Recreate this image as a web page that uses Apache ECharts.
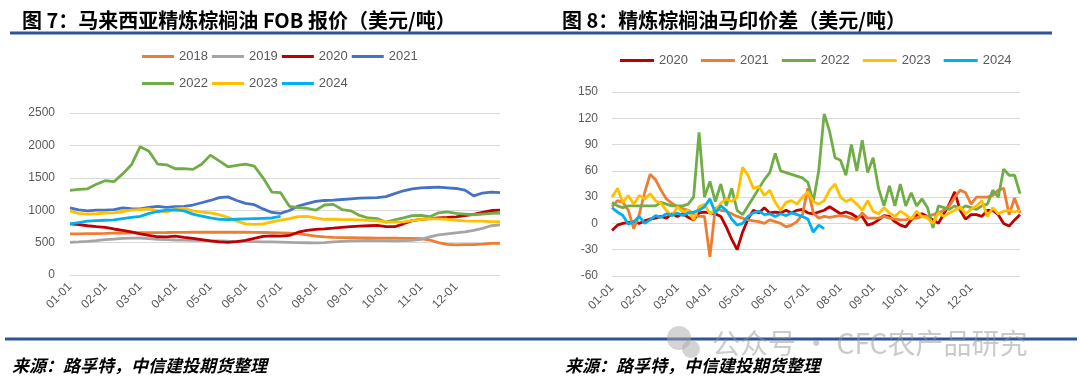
<!DOCTYPE html>
<html>
<head>
<meta charset="utf-8">
<script src="https://cdn.jsdelivr.net/npm/echarts@6/dist/echarts.min.js"></script>
<style>
html,body{margin:0;padding:0;background:#fff;}
#wrap{position:relative;width:1080px;height:388px;overflow:hidden;background:#fff;}
#c1{position:absolute;left:0;top:0;width:540px;height:388px;}
#c2{position:absolute;left:540px;top:0;width:540px;height:388px;}
</style>
</head>
<body>
<div id="wrap"><div id="c1"></div><div id="c2"></div></div>
<script>
// ---------- tick labels ----------
const MONTH_TICKS = ['01-01','02-01','03-01','04-01','05-01','06-01','07-01','08-01','09-01','10-01','11-01','12-01'];
const LEFT_DAYS = ['01','08','16','24'];
const RIGHT_DAYS = ['01','06','11','16','21','26'];
const LEFT_TAIL = ['12-31','01-07'];
const RIGHT_TAIL = ['12-31','01-05','01-10','01-15'];

// ---------- Fig 7 : Malaysia refined palm oil FOB (USD/t) ----------
const fob2018 = [635,636,638,640,642,645,648,650,652,654,655,656,658,658,660,660,660,661,660,660,660,658,656,654,650,646,640,620,600,588,580,578,576,574,572,570,570,568,566,564,560,540,500,472,465,468,470,478,488,490];
const fob2019 = [505,512,520,530,545,555,565,570,568,560,550,545,540,538,535,530,528,525,522,520,518,515,512,510,508,505,500,498,495,500,510,520,528,532,535,532,530,528,530,535,550,590,620,635,650,665,690,720,760,775];
const fob2020 = [790,778,760,745,735,710,690,665,635,610,590,588,600,580,565,545,525,512,505,515,535,565,595,605,600,610,660,690,705,712,722,735,748,755,760,765,745,745,790,840,860,870,880,888,898,915,935,965,995,1000];
const fob2021 = [1037,1005,990,1000,1000,1010,1035,1025,1020,1045,1060,1045,1055,1060,1080,1115,1150,1195,1205,1150,1105,1085,1020,965,950,995,1065,1100,1135,1150,1155,1165,1175,1185,1190,1195,1210,1255,1300,1330,1345,1350,1355,1345,1335,1310,1220,1265,1280,1270];
const fob2022 = [1307,1320,1330,1400,1455,1440,1560,1700,1980,1910,1710,1700,1640,1640,1630,1710,1850,1760,1670,1690,1710,1680,1500,1280,1270,1060,1040,1030,1000,1080,1090,1010,990,920,880,870,815,850,880,915,920,900,960,975,950,940,930,940,950,955];
const fob2023 = [985,950,940,945,955,960,980,1000,1010,1020,990,970,1020,1030,990,970,960,930,890,830,790,780,790,820,845,870,900,905,880,860,860,855,855,850,845,835,820,815,820,840,860,870,865,860,845,835,830,830,825,825];
const fob2024 = [790,810,830,840,845,850,870,890,905,950,980,1000,1005,990,940,910,880,860,855,860,865,870,875,880,905];

// ---------- Fig 8 : refined palm oil Malaysia-Indonesia spread (USD/t) ----------
const sp2020 = [-8,-2,0,1,2,0,3,5,6,8, 6,11,8,11,7,4,12,13,12,11, 8,-4,-18,-30,-10,5,15,12,18,12, 13,12,15,12,15,16,12,11,13,15, 19,15,11,13,11,7,8,-2,0,4, 9,8,2,-2,-4,4,10,11,8,4, 0,11,22,36,15,5,10,10,8,15, 15,10,0,-3,4,10];
const sp2021 = [19,26,24,15,-6,10,35,56,50,38, 28,23,19,17,15,11,8,8,-38,18, 15,14,11,8,6,4,3,2,0,4, 2,0,-4,-2,2,10,40,12,6,8, 7,8,9,8,6,4,12,6,6,6, 8,6,5,4,4,6,6,8,8,10, 12,15,20,30,38,35,22,30,30,30, 32,38,40,10,29,12];
const sp2022 = [24,20,18,20,20,20,20,20,20,24, 22,20,20,20,22,30,104,30,48,25, 45,20,40,15,10,20,30,40,50,58, 80,60,58,56,54,52,47,25,60,125, 105,75,72,55,90,60,95,58,75,40, 20,43,20,45,20,35,20,28,18,-5, 20,18,16,20,16,20,18,16,20,22, 38,30,62,55,55,34];
const sp2023 = [30,40,24,32,22,32,28,34,26,23, 15,8,19,13,15,4,19,22,11,15, 23,28,25,30,64,55,40,42,32,38, 24,15,24,26,22,30,36,25,22,26, 38,45,30,25,28,22,15,26,14,11, 18,12,8,14,10,5,14,8,6,0, 12,8,12,15,19,11,16,20,26,8, 18,11,14,15,13,15];
const sp2024 = [18,13,9,-1,2,8,0,4,9,7, 11,9,12,9,12,13,15,19,28,12, 20,15,5,-2,0,8,12,14,10,11, 8,11,9,12,10,8,5,-10,-2,-6];

// category builders (axis labels only)
function buildCats(days, tail){
  const out = [];
  MONTH_TICKS.forEach(t => { const m = t.slice(0,2); days.forEach(d => out.push(m + '-' + d)); });
  return out.concat(tail);
}
const catsL = buildCats(LEFT_DAYS, LEFT_TAIL);
const catsR = buildCats(RIGHT_DAYS, RIGHT_TAIL);

const CJK = '"Noto Sans CJK SC", "Noto Sans", sans-serif';
const NUM = '"Liberation Sans", Arial, sans-serif';
const RULE = '#2F5597';
const AX = '#595959';
const GRID = '#d9d9d9';

function xAxisCfg(cats, perMonth){
  return {
    type:'category', data:cats, boundaryGap:false,
    axisLine:{show:true, lineStyle:{color:GRID, width:1}},
    axisTick:{show:false},
    axisLabel:{
      interval:function(idx, val){ return idx < 12 * perMonth && MONTH_TICKS.indexOf(val) >= 0; },
      rotate:45, color:AX, fontSize:12, fontFamily:NUM, margin:10
    },
    splitLine:{show:false}
  };
}
function lineSeries(name, data, color){
  return {name:name, type:'line', data:data, symbol:'none', showSymbol:false,
    lineStyle:{width:2.8, color:color}, itemStyle:{color:color}, smooth:false};
}
function commonGraphics(title, srcX, ruleFrom, ruleTo, botFrom, botTo){
  return [
    {type:'text', x:22, y:20, silent:true,
      style:{text:title, font:'bold 20px ' + CJK, fill:'#000', verticalAlign:'middle'}},
    {type:'line', silent:true, shape:{x1:ruleFrom, y1:33, x2:ruleTo, y2:33}, style:{stroke:RULE, lineWidth:3}},
    {type:'line', silent:true, shape:{x1:botFrom, y1:339, x2:botTo, y2:339}, style:{stroke:RULE, lineWidth:3}},
    {type:'text', x:srcX, y:366, silent:true,
      style:{text:'来源：路孚特，中信建投期货整理', font:'italic bold 17px ' + CJK, fill:'#000', verticalAlign:'middle'}}
  ];
}
const legendBase = {icon:'rect', itemHeight:3, textStyle:{fontSize:13, color:AX, fontFamily:NUM}};
const yLabelFmt = function(v){ return String(v); };

// ---------- left chart ----------
const c1 = echarts.init(document.getElementById('c1'), null, {renderer:'canvas'});
c1.setOption({
  animation:false,
  backgroundColor:'#fff',
  textStyle:{fontFamily:NUM},
  graphic:commonGraphics('图 7：马来西亚精炼棕榈油 FOB 报价（美元/吨）', 12, 10, 540, 5, 540),
  legend:[
    Object.assign({}, legendBase, {data:['2018','2019','2020','2021'], left:137, top:45, itemWidth:32, itemGap:4}),
    Object.assign({}, legendBase, {data:['2022','2023','2024'], left:137, top:72, itemWidth:32, itemGap:4})
  ],
  grid:{left:70, right:40, top:113, bottom:113},
  xAxis:xAxisCfg(catsL, LEFT_DAYS.length),
  yAxis:{type:'value', min:0, max:2500, interval:500,
    axisLine:{show:false}, axisTick:{show:false},
    axisLabel:{color:AX, fontSize:12, fontFamily:NUM, margin:15, formatter:yLabelFmt},
    splitLine:{lineStyle:{color:GRID, width:1}}},
  series:[
    lineSeries('2018', fob2018, '#ED7D31'),
    lineSeries('2019', fob2019, '#A5A5A5'),
    lineSeries('2020', fob2020, '#C00000'),
    lineSeries('2021', fob2021, '#4472C4'),
    lineSeries('2022', fob2022, '#70AD47'),
    lineSeries('2023', fob2023, '#FFC000'),
    lineSeries('2024', fob2024, '#00B0F0')
  ]
});

// ---------- right chart ----------
const c2 = echarts.init(document.getElementById('c2'), null, {renderer:'canvas'});
const g2 = commonGraphics('图 8：精炼棕榈油马印价差（美元/吨）', 25, 0, 512, 0, 537);
g2.push(
  {type:'circle', silent:true, shape:{cx:139, cy:338, r:12}, style:{fill:'rgba(170,170,170,0.5)'}, z:20},
  {type:'circle', silent:true, shape:{cx:151, cy:349, r:9}, style:{fill:'rgba(170,170,170,0.5)'}, z:20},
  {type:'text', x:172, y:343, silent:true, z:20,
    style:{text:'公众号 · CFC农产品研究', font:'28px ' + CJK, fill:'rgba(150,150,150,0.5)', verticalAlign:'middle'}}
);
c2.setOption({
  animation:false,
  backgroundColor:'#fff',
  textStyle:{fontFamily:NUM},
  graphic:g2,
  legend:Object.assign({}, legendBase, {data:['2020','2021','2022','2023','2024'], left:75, top:49, itemWidth:34, itemGap:13}),
  grid:{left:72, right:60, top:92, bottom:112},
  xAxis:xAxisCfg(catsR, RIGHT_DAYS.length),
  yAxis:{type:'value', min:-60, max:150, interval:30,
    axisLine:{show:false}, axisTick:{show:false},
    axisLabel:{color:AX, fontSize:12, fontFamily:NUM, margin:14, formatter:yLabelFmt},
    splitLine:{lineStyle:{color:GRID, width:1}}},
  series:[
    lineSeries('2020', sp2020, '#C00000'),
    lineSeries('2021', sp2021, '#ED7D31'),
    lineSeries('2022', sp2022, '#70AD47'),
    lineSeries('2023', sp2023, '#FFC000'),
    lineSeries('2024', sp2024, '#00B0F0')
  ]
});
</script>
</body>
</html>
